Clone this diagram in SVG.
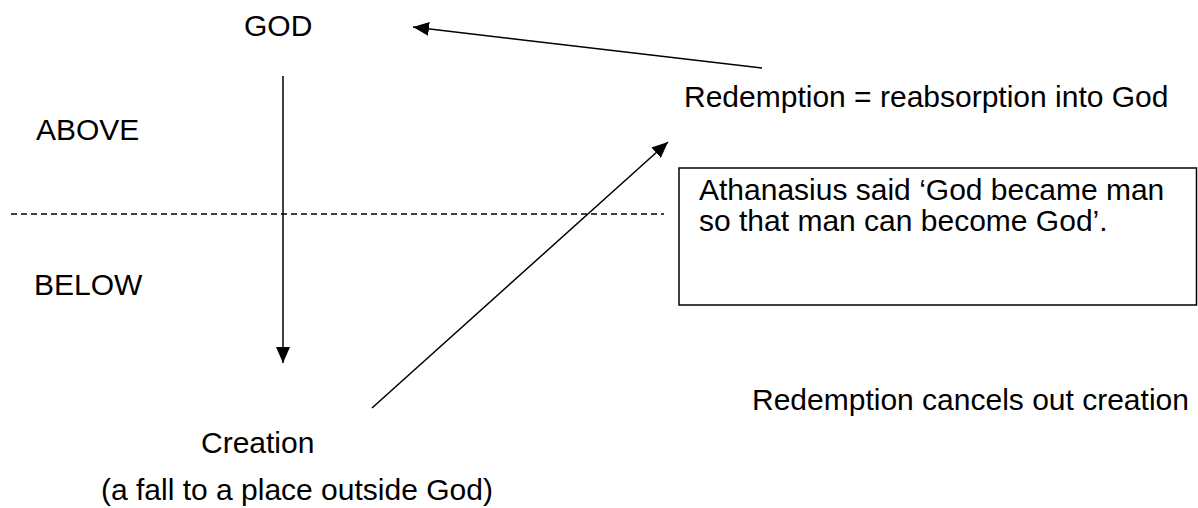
<svg xmlns="http://www.w3.org/2000/svg" width="1198" height="508" viewBox="0 0 1198 508">
  <style>
    text { font-family: "Liberation Sans", Arial, sans-serif; font-size: 30px; fill: #000; }
    .line { stroke: #000; stroke-width: 1.5; fill: none; }
    .dash { stroke: #000; stroke-width: 1.5; stroke-dasharray: 6 4; fill: none; }
    .box { stroke: #000; stroke-width: 1.5; fill: #fff; }
  </style>
  <defs>
    <marker id="arrow" viewBox="0 0 16 14" refX="16" refY="7" markerWidth="16" markerHeight="14" markerUnits="userSpaceOnUse" orient="auto">
      <path d="M0,0 L16,7 L0,14 Z" fill="#000"/>
    </marker>
  </defs>

  <g id="god"><text x="244" y="36">GOD</text></g>
  <g id="above"><text x="36" y="140">ABOVE</text></g>
  <g id="below"><text x="34" y="295">BELOW</text></g>
  <g id="divider"><line class="dash" x1="11" y1="214" x2="664" y2="214"/></g>
  <g id="redemption"><text x="684" y="107">Redemption = reabsorption into God</text></g>
  <g id="athanasius">
    <rect class="box" x="679" y="168" width="517.5" height="137"/>
    <text x="699" y="200">Athanasius said ‘God became man</text>
    <text x="699" y="231">so that man can become God’.</text>
  </g>
  <g id="cancels"><text x="752" y="410">Redemption cancels out creation</text></g>
  <g id="creation">
    <text x="201" y="453">Creation</text>
    <text x="101" y="500">(a fall to a place outside God)</text>
  </g>

  <g id="connectors">
    <line class="line" x1="762" y1="68" x2="413" y2="27" marker-end="url(#arrow)"/>
    <line class="line" x1="283" y1="76" x2="283" y2="363" marker-end="url(#arrow)"/>
    <line class="line" x1="372" y1="408" x2="668" y2="142" marker-end="url(#arrow)"/>
  </g>
</svg>
